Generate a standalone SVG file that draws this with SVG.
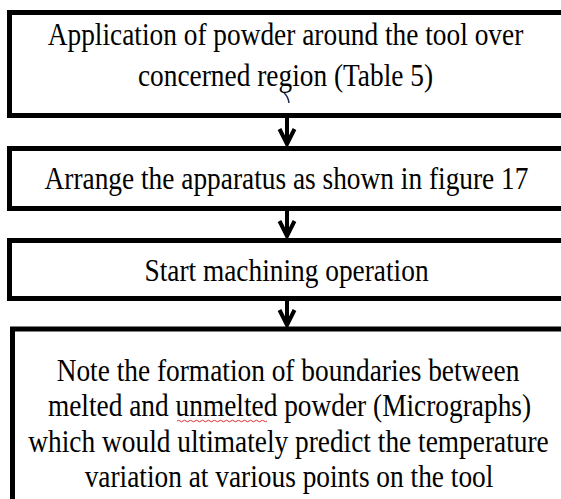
<svg xmlns="http://www.w3.org/2000/svg" width="561" height="499" viewBox="0 0 561 499">
  <defs>
    <style>
      .box { fill: #ffffff; stroke: #000000; stroke-width: 5; stroke-linejoin: miter; }
      .t { font-family: "Liberation Serif", "Times New Roman", serif; font-size: 32px; fill: #000000; text-anchor: middle; }
      .conn { stroke: #000000; stroke-width: 4; fill: none; }
      .head { stroke: #000000; stroke-width: 4; fill: none; stroke-linejoin: miter; }
    </style>
  </defs>
  <rect x="0" y="0" width="561" height="499" fill="#ffffff"/>

  <g id="connectors">
    <line class="conn" x1="287" y1="118" x2="287" y2="144"/>
    <polyline class="head" points="279.5,129 287,144 294.5,129"/>
    <line class="conn" x1="287" y1="211" x2="287" y2="236"/>
    <polyline class="head" points="279.5,221 287,236 294.5,221"/>
    <line class="conn" x1="287" y1="301" x2="287" y2="325"/>
    <polyline class="head" points="279.5,310 287,325 294.5,310"/>
  </g>

  <g id="node1">
    <path class="box" d="M561,12.5 H9.5 V115.5 H561"/>
    <text class="t" x="0" y="0" transform="matrix(0.855,0,0,1,285.5,45)">Application of powder around the tool over</text>
    <text class="t" x="0" y="0" transform="matrix(0.855,0,0,1,285.5,86)">concerned region (Table 5)</text>
    <path d="M284,93 Q288,96 289,103" stroke="#1a2a55" stroke-width="1.5" fill="none"/>
  </g>

  <g id="node2">
    <path class="box" d="M561,148.5 H9.5 V208.5 H561"/>
    <text class="t" x="0" y="0" transform="matrix(0.855,0,0,1,286.5,189)">Arrange the apparatus as shown in figure 17</text>
  </g>

  <g id="node3">
    <path class="box" d="M561,240.5 H9.5 V298.5 H561"/>
    <text class="t" x="0" y="0" transform="matrix(0.855,0,0,1,286.5,281)">Start machining operation</text>
  </g>

  <g id="node4">
    <path class="box" d="M561,329 H12.5 V499"/>
    <text class="t" x="0" y="0" transform="matrix(0.855,0,0,1,288,381)">Note the formation of boundaries between</text>
    <text class="t" x="0" y="0" transform="matrix(0.855,0,0,1,289.5,416)">melted and unmelted powder (Micrographs)</text>
    <text class="t" x="0" y="0" transform="matrix(0.855,0,0,1,288.5,452)">which would ultimately predict the temperature</text>
    <text class="t" x="0" y="0" transform="matrix(0.855,0,0,1,289,487)">variation at various points on the tool</text>
    <path d="M177,421 q1.5,-1.5 3,0 t3,0 t3,0 t3,0 t3,0 t3,0 t3,0 t3,0 t3,0 t3,0 t3,0 t3,0 t3,0 t3,0 t3,0 t3,0 t3,0 t3,0 t3,0 t3,0 t3,0 t3,0 t3,0 t3,0 t3,0 t3,0 t3,0 t3,0 t3,0 t3,0" stroke="#e03030" stroke-width="1" fill="none"/>
  </g>
</svg>
